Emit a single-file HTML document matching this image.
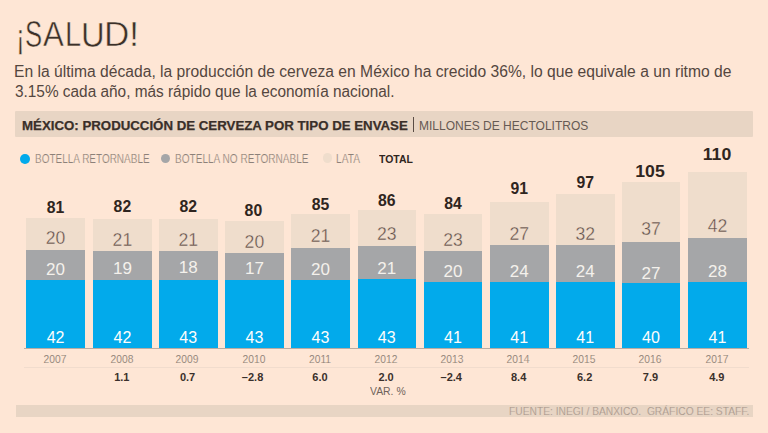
<!DOCTYPE html>
<html><head><meta charset="utf-8"><style>
*{margin:0;padding:0;box-sizing:border-box}
html,body{width:768px;height:433px;overflow:hidden;background:#fee6d5}
body{position:relative;font-family:"Liberation Sans",sans-serif}
.t{position:absolute;line-height:1;text-align:center;white-space:nowrap}
.b{position:absolute}
.g{position:absolute;line-height:1;white-space:nowrap;transform-origin:0 0}
.tot{font-weight:bold;color:#2f2520}
.lv{color:#5e514a;-webkit-text-stroke:0.35px #efddcc}
.wv{color:#f4f1ec;}
.bv{color:#fdfdfc;}
.yr{color:#8c7f77;-webkit-text-stroke:0.1px #fee6d5}
.var{font-weight:bold;color:#3a302b}
#hdr{position:absolute;left:15px;top:111px;width:738px;height:26px;background:#e8d5c4;border-radius:1px}
#src{position:absolute;left:16px;top:405px;width:737px;height:12px;background:#e8d5c4}
#axis{position:absolute;left:24px;top:348px;width:725px;height:1px;background:#b9aca3}
#axis2{position:absolute;left:24px;top:367px;width:725px;height:1px;background:#f1dccd}
.dot{position:absolute;width:9.8px;height:9.8px;border-radius:50%}
</style></head><body>
<div id="hdr"></div>
<div id="src"></div>
<div style="position:absolute;left:413px;top:117px;width:1px;height:15px;background:#5a4c44"></div>
<div class="dot" style="left:20.2px;top:153.9px;background:#02aaeb"></div>
<div class="dot" style="left:160.5px;top:153.6px;background:#a5a6a8"></div>
<div class="dot" style="left:322.5px;top:153.4px;background:#efddcc"></div>
<div class="b" style="left:26.30px;top:218.00px;width:58.50px;height:130.00px;background:#efddcc"></div><div class="b" style="left:26.30px;top:250.00px;width:58.50px;height:98.00px;background:#a5a6a8"></div><div class="b" style="left:26.30px;top:280.20px;width:58.50px;height:67.80px;background:#02aaeb"></div><div id="tot0" class="t tot" style="left:-44.45px;width:200px;top:199.64px;font-size:15.78px;">81</div><div id="lv0" class="t lv" style="left:-44.45px;width:200px;top:230.10px;font-size:17.60px;">20</div><div id="nv0" class="t wv" style="left:-44.45px;width:200px;top:261.28px;font-size:17.04px;">20</div><div id="rv0" class="t bv" style="left:-44.45px;width:200px;top:329.10px;font-size:16.06px;">42</div><div id="yr0" class="t yr" style="left:-45.25px;width:200px;top:353.74px;font-size:11.17px;transform:scaleX(0.9200);">2007</div><div class="b" style="left:92.80px;top:218.80px;width:59.20px;height:129.20px;background:#efddcc"></div><div class="b" style="left:92.80px;top:251.00px;width:59.20px;height:97.00px;background:#a5a6a8"></div><div class="b" style="left:92.80px;top:280.30px;width:59.20px;height:67.70px;background:#02aaeb"></div><div id="tot1" class="t tot" style="left:22.40px;width:200px;top:199.24px;font-size:15.78px;">82</div><div id="lv1" class="t lv" style="left:22.40px;width:200px;top:232.00px;font-size:17.60px;">21</div><div id="nv1" class="t wv" style="left:22.40px;width:200px;top:260.48px;font-size:17.04px;">19</div><div id="rv1" class="t bv" style="left:22.40px;width:200px;top:329.10px;font-size:16.06px;">42</div><div id="yr1" class="t yr" style="left:21.60px;width:200px;top:353.74px;font-size:11.17px;transform:scaleX(0.9200);">2008</div><div id="var1" class="t var" style="left:21.80px;width:200px;top:372.46px;font-size:11.03px;">1.1</div><div class="b" style="left:158.80px;top:218.80px;width:58.80px;height:129.20px;background:#efddcc"></div><div class="b" style="left:158.80px;top:250.90px;width:58.80px;height:97.10px;background:#a5a6a8"></div><div class="b" style="left:158.80px;top:279.50px;width:58.80px;height:68.50px;background:#02aaeb"></div><div id="tot2" class="t tot" style="left:88.20px;width:200px;top:199.24px;font-size:15.78px;">82</div><div id="lv2" class="t lv" style="left:88.20px;width:200px;top:232.00px;font-size:17.60px;">21</div><div id="nv2" class="t wv" style="left:88.20px;width:200px;top:259.08px;font-size:17.04px;">18</div><div id="rv2" class="t bv" style="left:88.20px;width:200px;top:329.10px;font-size:16.06px;">43</div><div id="yr2" class="t yr" style="left:87.40px;width:200px;top:353.74px;font-size:11.17px;transform:scaleX(0.9200);">2009</div><div id="var2" class="t var" style="left:87.60px;width:200px;top:372.46px;font-size:11.03px;">0.7</div><div class="b" style="left:225.20px;top:220.70px;width:58.40px;height:127.30px;background:#efddcc"></div><div class="b" style="left:225.20px;top:253.00px;width:58.40px;height:95.00px;background:#a5a6a8"></div><div class="b" style="left:225.20px;top:279.90px;width:58.40px;height:68.10px;background:#02aaeb"></div><div id="tot3" class="t tot" style="left:153.40px;width:200px;top:202.89px;font-size:15.78px;">80</div><div id="lv3" class="t lv" style="left:154.40px;width:200px;top:233.90px;font-size:17.60px;">20</div><div id="nv3" class="t wv" style="left:154.40px;width:200px;top:259.68px;font-size:17.04px;">17</div><div id="rv3" class="t bv" style="left:154.40px;width:200px;top:329.10px;font-size:16.06px;">43</div><div id="yr3" class="t yr" style="left:153.60px;width:200px;top:353.74px;font-size:11.17px;transform:scaleX(0.9200);">2010</div><div id="var3" class="t var" style="left:152.60px;width:200px;top:372.46px;font-size:11.03px;">–2.8</div><div class="b" style="left:291.30px;top:214.40px;width:58.50px;height:133.60px;background:#efddcc"></div><div class="b" style="left:291.30px;top:248.30px;width:58.50px;height:99.70px;background:#a5a6a8"></div><div class="b" style="left:291.30px;top:279.90px;width:58.50px;height:68.10px;background:#02aaeb"></div><div id="tot4" class="t tot" style="left:220.55px;width:200px;top:197.04px;font-size:15.78px;">85</div><div id="lv4" class="t lv" style="left:220.55px;width:200px;top:227.90px;font-size:17.60px;">21</div><div id="nv4" class="t wv" style="left:220.55px;width:200px;top:261.08px;font-size:17.04px;">20</div><div id="rv4" class="t bv" style="left:220.55px;width:200px;top:329.10px;font-size:16.06px;">43</div><div id="yr4" class="t yr" style="left:219.75px;width:200px;top:353.74px;font-size:11.17px;transform:scaleX(0.9200);">2011</div><div id="var4" class="t var" style="left:219.95px;width:200px;top:372.46px;font-size:11.03px;">6.0</div><div class="b" style="left:357.70px;top:210.00px;width:58.00px;height:138.00px;background:#efddcc"></div><div class="b" style="left:357.70px;top:246.10px;width:58.00px;height:101.90px;background:#a5a6a8"></div><div class="b" style="left:357.70px;top:279.20px;width:58.00px;height:68.80px;background:#02aaeb"></div><div id="tot5" class="t tot" style="left:286.70px;width:200px;top:192.64px;font-size:15.78px;">86</div><div id="lv5" class="t lv" style="left:286.70px;width:200px;top:226.20px;font-size:17.60px;">23</div><div id="nv5" class="t wv" style="left:286.70px;width:200px;top:260.38px;font-size:17.04px;">21</div><div id="rv5" class="t bv" style="left:286.70px;width:200px;top:329.10px;font-size:16.06px;">43</div><div id="yr5" class="t yr" style="left:285.90px;width:200px;top:353.74px;font-size:11.17px;transform:scaleX(0.9200);">2012</div><div id="var5" class="t var" style="left:286.10px;width:200px;top:372.46px;font-size:11.03px;">2.0</div><div class="b" style="left:423.80px;top:214.40px;width:58.50px;height:133.60px;background:#efddcc"></div><div class="b" style="left:423.80px;top:250.80px;width:58.50px;height:97.20px;background:#a5a6a8"></div><div class="b" style="left:423.80px;top:282.20px;width:58.50px;height:65.80px;background:#02aaeb"></div><div id="tot6" class="t tot" style="left:353.05px;width:200px;top:195.54px;font-size:15.78px;">84</div><div id="lv6" class="t lv" style="left:353.05px;width:200px;top:231.80px;font-size:17.60px;">23</div><div id="nv6" class="t wv" style="left:353.05px;width:200px;top:262.98px;font-size:17.04px;">20</div><div id="rv6" class="t bv" style="left:353.05px;width:200px;top:329.10px;font-size:16.06px;">41</div><div id="yr6" class="t yr" style="left:352.25px;width:200px;top:353.74px;font-size:11.17px;transform:scaleX(0.9200);">2013</div><div id="var6" class="t var" style="left:351.25px;width:200px;top:372.46px;font-size:11.03px;">–2.4</div><div class="b" style="left:490.00px;top:202.00px;width:58.50px;height:146.00px;background:#efddcc"></div><div class="b" style="left:490.00px;top:244.90px;width:58.50px;height:103.10px;background:#a5a6a8"></div><div class="b" style="left:490.00px;top:282.10px;width:58.50px;height:65.90px;background:#02aaeb"></div><div id="tot7" class="t tot" style="left:419.25px;width:200px;top:181.34px;font-size:15.78px;">91</div><div id="lv7" class="t lv" style="left:419.25px;width:200px;top:225.50px;font-size:17.60px;">27</div><div id="nv7" class="t wv" style="left:419.25px;width:200px;top:262.78px;font-size:17.04px;">24</div><div id="rv7" class="t bv" style="left:419.25px;width:200px;top:329.10px;font-size:16.06px;">41</div><div id="yr7" class="t yr" style="left:418.45px;width:200px;top:353.74px;font-size:11.17px;transform:scaleX(0.9200);">2014</div><div id="var7" class="t var" style="left:418.65px;width:200px;top:372.46px;font-size:11.03px;">8.4</div><div class="b" style="left:556.00px;top:193.90px;width:58.50px;height:154.10px;background:#efddcc"></div><div class="b" style="left:556.00px;top:244.90px;width:58.50px;height:103.10px;background:#a5a6a8"></div><div class="b" style="left:556.00px;top:282.10px;width:58.50px;height:65.90px;background:#02aaeb"></div><div id="tot8" class="t tot" style="left:485.25px;width:200px;top:174.94px;font-size:15.78px;">97</div><div id="lv8" class="t lv" style="left:485.25px;width:200px;top:225.50px;font-size:17.60px;">32</div><div id="nv8" class="t wv" style="left:485.25px;width:200px;top:262.78px;font-size:17.04px;">24</div><div id="rv8" class="t bv" style="left:485.25px;width:200px;top:329.10px;font-size:16.06px;">41</div><div id="yr8" class="t yr" style="left:484.45px;width:200px;top:353.74px;font-size:11.17px;transform:scaleX(0.9200);">2015</div><div id="var8" class="t var" style="left:484.65px;width:200px;top:372.46px;font-size:11.03px;">6.2</div><div class="b" style="left:622.10px;top:181.60px;width:57.90px;height:166.40px;background:#efddcc"></div><div class="b" style="left:622.10px;top:241.50px;width:57.90px;height:106.50px;background:#a5a6a8"></div><div class="b" style="left:622.10px;top:283.30px;width:57.90px;height:64.70px;background:#02aaeb"></div><div id="tot9" class="t tot" style="left:550.05px;width:200px;top:164.04px;font-size:15.78px;transform:scaleX(1.1200);">105</div><div id="lv9" class="t lv" style="left:551.05px;width:200px;top:220.80px;font-size:17.60px;">37</div><div id="nv9" class="t wv" style="left:551.05px;width:200px;top:265.08px;font-size:17.04px;">27</div><div id="rv9" class="t bv" style="left:551.05px;width:200px;top:329.10px;font-size:16.06px;">40</div><div id="yr9" class="t yr" style="left:550.25px;width:200px;top:353.74px;font-size:11.17px;transform:scaleX(0.9200);">2016</div><div id="var9" class="t var" style="left:550.45px;width:200px;top:372.46px;font-size:11.03px;">7.9</div><div class="b" style="left:688.00px;top:171.80px;width:58.90px;height:176.20px;background:#efddcc"></div><div class="b" style="left:688.00px;top:238.40px;width:58.90px;height:109.60px;background:#a5a6a8"></div><div class="b" style="left:688.00px;top:282.20px;width:58.90px;height:65.80px;background:#02aaeb"></div><div id="tot10" class="t tot" style="left:616.65px;width:200px;top:147.34px;font-size:15.78px;transform:scaleX(1.1200);">110</div><div id="lv10" class="t lv" style="left:617.45px;width:200px;top:217.50px;font-size:17.60px;">42</div><div id="nv10" class="t wv" style="left:617.45px;width:200px;top:263.28px;font-size:17.04px;">28</div><div id="rv10" class="t bv" style="left:617.45px;width:200px;top:329.10px;font-size:16.06px;">41</div><div id="yr10" class="t yr" style="left:616.65px;width:200px;top:353.74px;font-size:11.17px;transform:scaleX(0.9200);">2017</div><div id="var10" class="t var" style="left:616.85px;width:200px;top:372.46px;font-size:11.03px;">4.9</div>
<div id="axis"></div>
<div id="axis2"></div>
<div id="l1" class="t " style="left:14.43px;top:63.64px;font-size:15.78px;text-align:left;transform-origin:0 0;transform:scaleX(0.9923);color:#54463f;">En la última década, la producción de cerveza en México ha crecido 36%, lo que equivale a un ritmo de</div>
<div id="l2" class="t " style="left:14.74px;top:84.14px;font-size:15.78px;text-align:left;transform-origin:0 0;transform:scaleX(0.9752);color:#54463f;">3.15% cada año, más rápido que la economía nacional.</div>
<div id="hb" class="t " style="left:21.83px;top:119.66px;font-size:12.57px;text-align:left;transform-origin:0 0;transform:scaleX(1.0554);font-weight:bold;color:#3a2f29;-webkit-text-stroke:0.25px #3a2f29;">MÉXICO: PRODUCCIÓN DE CERVEZA POR TIPO DE ENVASE</div>
<div id="hm" class="t " style="left:419.45px;top:119.56px;font-size:12.57px;text-align:left;transform-origin:0 0;transform:scaleX(0.9560);color:#665a53;">MILLONES DE HECTOLITROS</div>
<div id="lg1" class="t " style="left:35.44px;top:153.40px;font-size:12.29px;text-align:left;transform-origin:0 0;transform:scaleX(0.8123);color:#8c8079;-webkit-text-stroke:0.2px #fee6d5;">BOTELLA RETORNABLE</div>
<div id="lg2" class="t " style="left:174.69px;top:153.40px;font-size:12.29px;text-align:left;transform-origin:0 0;transform:scaleX(0.8200);color:#8c8079;-webkit-text-stroke:0.2px #fee6d5;">BOTELLA NO RETORNABLE</div>
<div id="lg3" class="t " style="left:336.09px;top:153.40px;font-size:12.29px;text-align:left;transform-origin:0 0;transform:scaleX(0.8278);color:#8c8079;-webkit-text-stroke:0.2px #fee6d5;">LATA</div>
<div id="lg4" class="t " style="left:378.55px;top:153.54px;font-size:11.17px;text-align:left;transform-origin:0 0;transform:scaleX(0.9348);font-weight:bold;color:#2f2520;">TOTAL</div>
<div id="srct" class="t " style="left:509.15px;top:405.07px;font-size:11.73px;text-align:left;transform-origin:0 0;transform:scaleX(0.8751);color:#a39489;-webkit-text-stroke:0.2px #e8d5c4;">FUENTE: INEGI / BANXICO.&nbsp; GRÁFICO EE: STAFF.</div>
<div id="varp" class="t " style="left:370.39px;top:385.69px;font-size:11.59px;text-align:left;transform-origin:0 0;transform:scaleX(0.8986);color:#6e625b;">VAR. %</div>
<div id="g_inv" class="g" style="left:15.66px;top:19.10px;font-size:36px;font-weight:400;transform:scale(0.7318,0.9901);color:#3b302a;-webkit-text-stroke:0.55px #fee6d5;">¡</div>
<div id="g_S" class="g" style="left:25.19px;top:16.57px;font-size:36px;font-weight:400;transform:scale(0.7142,1.0077);color:#3b302a;-webkit-text-stroke:0.55px #fee6d5;">S</div>
<div id="g_A" class="g" style="left:42.93px;top:17.21px;font-size:36px;font-weight:400;transform:scale(0.8667,0.9731);color:#3b302a;-webkit-text-stroke:0.55px #fee6d5;">A</div>
<div id="g_L" class="g" style="left:65.08px;top:17.21px;font-size:36px;font-weight:400;transform:scale(0.8088,0.9731);color:#3b302a;-webkit-text-stroke:0.55px #fee6d5;">L</div>
<div id="g_U" class="g" style="left:80.65px;top:17.15px;font-size:36px;font-weight:400;transform:scale(0.9114,0.9886);color:#3b302a;-webkit-text-stroke:0.55px #fee6d5;">U</div>
<div id="g_D" class="g" style="left:104.49px;top:17.21px;font-size:36px;font-weight:400;transform:scale(0.9739,0.9731);color:#3b302a;-webkit-text-stroke:0.55px #fee6d5;">D</div>
<div id="g_ex" class="g" style="left:129.07px;top:17.21px;font-size:36px;font-weight:400;transform:scale(1.0132,0.9731);color:#3b302a;-webkit-text-stroke:0.55px #fee6d5;">!</div>
</body></html>
